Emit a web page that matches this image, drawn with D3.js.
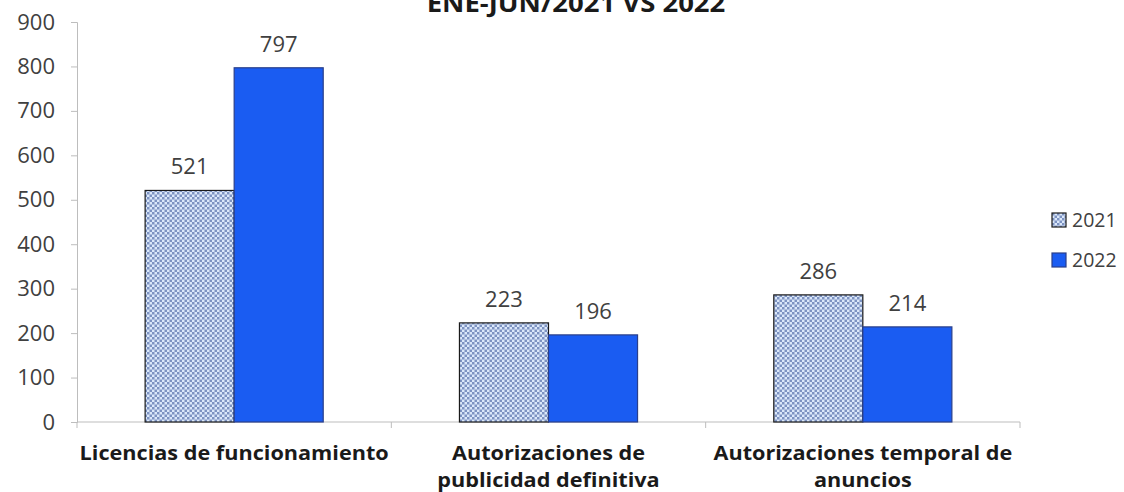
<!DOCTYPE html>
<html>
<head>
<meta charset="utf-8">
<script src="https://cdn.jsdelivr.net/npm/d3@7"></script>
<style>
  body { margin: 0; background: #fff; }
  svg text { font-family: "Open Sans", Lato, sans-serif; }
</style>
</head>
<body>
<div class="chart"></div>
<script>
// chart data
var categories = [
  ["Licencias de funcionamiento"],
  ["Autorizaciones de", "publicidad definitiva"],
  ["Autorizaciones temporal de", "anuncios"]
];
var years = ["2021", "2022"];
var values2021 = [521, 223, 286];
var values2022 = [797, 196, 214];
var yTicks = [0, 100, 200, 300, 400, 500, 600, 700, 800, 900];
var title = "ENE-JUN/2021 VS 2022";

var svgWidth = 1124;
var svgHeight = 492;
var margin = { top: 22, right: 104, bottom: 70, left: 77 };
var width = svgWidth - margin.left - margin.right;
var height = svgHeight - margin.top - margin.bottom;

var svg = d3.select(".chart")
  .append("svg")
    .attr("width", svgWidth)
    .attr("height", svgHeight);

// checker fill for 2021
var defs = svg.append("defs");
var pat = defs.append("pattern")
  .attr("id", "checks")
  .attr("patternUnits", "userSpaceOnUse")
  .attr("width", 5)
  .attr("height", 5);
pat.append("rect").attr("width", 5).attr("height", 5).attr("fill", "#dbe8fa");
pat.append("rect").attr("x", 0).attr("y", 0).attr("width", 2.5).attr("height", 2.5).attr("fill", "#7d93c2");
pat.append("rect").attr("x", 2.5).attr("y", 2.5).attr("width", 2.5).attr("height", 2.5).attr("fill", "#7d93c2");

var chart = svg.append("g")
  .attr("transform", "translate(" + margin.left + "," + margin.top + ")");

var x0 = d3.scaleBand().domain(d3.range(categories.length)).range([0, width]).padding(0);
var x1 = d3.scaleBand().domain(years).range([0, x0.bandwidth()]).paddingInner(0).paddingOuter(0.765);
var y = d3.scaleLinear().domain([0, 900]).range([height, 0]);

// y axis
var leftAxis = d3.axisLeft(y).tickValues(yTicks).tickSize(6).tickPadding(16);
var gy = chart.append("g").call(leftAxis);
gy.select(".domain").attr("stroke", "#bdbdbd");
gy.selectAll(".tick line").attr("stroke", "#bdbdbd");
gy.selectAll(".tick text")
  .attr("font-size", 22)
  .attr("fill", "#404040")
  .attr("font-family", "'Open Sans', sans-serif");

// x axis line + category separators
chart.append("line")
  .attr("x1", 0).attr("x2", width)
  .attr("y1", height).attr("y2", height)
  .attr("stroke", "#bdbdbd");
chart.selectAll(".sep")
  .data(d3.range(categories.length + 1))
  .enter().append("line")
  .attr("x1", function(d) { return d * x0.step(); })
  .attr("x2", function(d) { return d * x0.step(); })
  .attr("y1", height).attr("y2", height + 6)
  .attr("stroke", "#bdbdbd");

var series = [
  { year: "2021", values: values2021, fill: "url(#checks)", stroke: "#1a1a1a" },
  { year: "2022", values: values2022, fill: "#1a5cf2", stroke: "#2a3f8a" }
];

series.forEach(function(s) {
  chart.selectAll(".bar" + s.year)
    .data(s.values)
    .enter().append("rect")
    .attr("x", function(d, i) { return x0(i) + x1(s.year); })
    .attr("y", function(d) { return y(d); })
    .attr("width", x1.bandwidth())
    .attr("height", function(d) { return height - y(d); })
    .attr("fill", s.fill)
    .attr("stroke", s.stroke)
    .attr("stroke-width", 1.2);

  chart.selectAll(".lbl" + s.year)
    .data(s.values)
    .enter().append("text")
    .attr("x", function(d, i) { return x0(i) + x1(s.year) + x1.bandwidth() / 2; })
    .attr("y", function(d) { return y(d) - 16; })
    .attr("text-anchor", "middle")
    .attr("font-size", 22)
    .attr("fill", "#404040")
    .text(function(d) { return d; });
});

// category labels (slightly stretched, like the source image)
categories.forEach(function(lines, i) {
  var cx = x0(i) + x0.bandwidth() / 2;
  var t = chart.append("text")
    .attr("transform", "translate(" + cx + ",0) scale(1.14,1)")
    .attr("text-anchor", "middle")
    .attr("font-size", 19)
    .attr("font-weight", "bold")
    .attr("fill", "#1a1a1a");
  lines.forEach(function(line, j) {
    t.append("tspan")
      .attr("x", 0)
      .attr("y", height + 38 + j * 27)
      .text(line);
  });
});

// title (top cut off, as in the original)
svg.append("text")
  .attr("transform", "translate(576,12) scale(1.1,1)")
  .attr("text-anchor", "middle")
  .attr("font-size", 25)
  .attr("font-weight", "bold")
  .attr("fill", "#1a1a1a")
  .text(title);

// legend
var legend = svg.append("g").attr("transform", "translate(1052,213)");
series.forEach(function(s, i) {
  var g = legend.append("g").attr("transform", "translate(0," + (i * 40) + ")");
  g.append("rect")
    .attr("width", 14).attr("height", 14)
    .attr("fill", s.fill)
    .attr("stroke", s.stroke)
    .attr("stroke-width", 1.2);
  g.append("text")
    .attr("x", 20).attr("y", 14)
    .attr("font-size", 19.5)
    .attr("fill", "#404040")
    .text(s.year);
});
</script>
</body>
</html>
